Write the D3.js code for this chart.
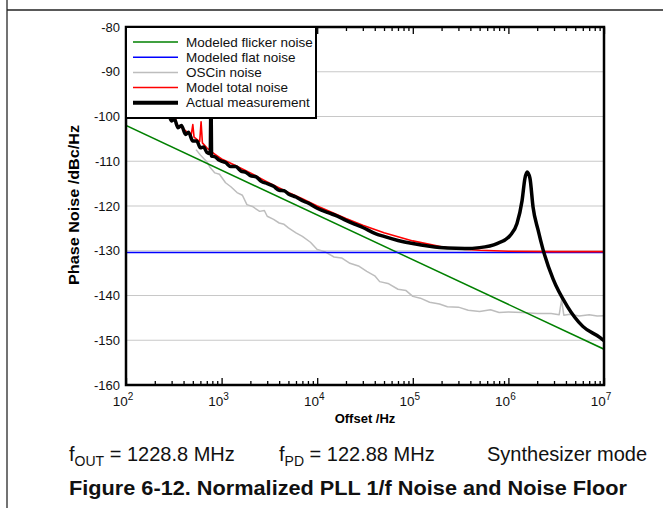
<!DOCTYPE html>
<html lang="en">
<head>
  <meta charset="UTF-8">
  <title>Normalized PLL 1/f Noise and Noise Floor</title>
  <script src="https://d3js.org/d3.v7.min.js"></script>
  <style>
    body { margin: 0; background: #fff; }
    svg { font-family: Arial, "Liberation Sans", sans-serif; }
  </style>
</head>
<body>
  <script>
    // 1. Data (offset Hz, phase noise dBc/Hz)
    const xTicks = [1e2, 1e3, 1e4, 1e5, 1e6, 1e7];
    const yTicks = [-160, -150, -140, -130, -120, -110, -100, -90, -80];

    const flickerF = [1e2, 1e7];
    const flickerDb = [-102, -152];

    const flatF = [1e2, 1e7];
    const flatDb = [-130.4, -130.4];

    const oscinF = [540, 600, 650, 700, 760, 850, 950, 1100, 1250, 1450, 1650, 1840, 2100, 2500, 2800,
      3000, 3500, 4000, 4500, 5000, 6000, 7000, 8500, 1e4, 1.2e4, 1.5e4, 1.8e4, 2.2e4, 2.7e4, 3.3e4,
      4e4, 4.5e4, 5.5e4, 7e4, 8.5e4, 1e5, 1.2e5, 1.5e5, 1.9e5, 2.3e5, 3e5, 3.8e5, 5e5, 6.5e5, 8e5,
      1e6, 1.4e6, 2e6, 2.8e6, 3.4e6, 3.6e6, 3.8e6, 4.4e6, 5.5e6, 7e6, 8.5e6, 1e7];
    const oscinDb = [-107.4, -108.6, -109.4, -110.1, -111.4, -112.6, -112.9, -114.8, -115.7, -117.0, -117.6, -119.7, -120.1, -121.2, -121.0,
      -122.3, -123.0, -123.8, -124.1, -124.9, -126.0, -126.8, -128.1, -129.7, -130.2, -131.4, -131.6, -132.8, -133.4, -134.6,
      -135.6, -136.9, -137.3, -138.6, -138.9, -140.2, -140.6, -141.5, -141.9, -142.5, -142.6, -143.3, -143.6, -143.2, -143.8,
      -143.7, -143.8, -144.0, -144.0, -144.3, -141.0, -144.4, -144.2, -144.6, -144.3, -144.6, -144.5];

    const modelF = [280, 300, 325, 340, 400, 480, 500, 515, 590, 610, 630, 700, 800, 900, 1000, 1200, 1500,
      2000, 3000, 5000, 7000, 1e4, 2e4, 3e4, 5e4, 1e5, 2e5, 3e5, 5e5, 1e6, 3e6, 1e7];
    const modelDb = [-100, -101, -99.8, -101.8, -102.8, -104.2, -101.8, -104.6, -105.6, -101.2, -105.9, -107, -108, -108.8, -109.5, -110.3, -111.3,
      -112.6, -114.6, -117, -118.4, -120, -122.8, -124.3, -126, -127.8, -129.1, -129.6, -129.9, -130.1, -130.2, -130.2];

    const measF = [280, 300, 320, 350, 380, 420, 450, 500, 550, 600, 650, 700, 760, 775, 785, 850, 950,
      1100, 1250, 1400, 1600, 1800, 2000, 2300, 2600, 3000, 3500, 4000, 4500, 5000, 6000, 7000, 8000,
      1e4, 1.3e4, 1.6e4, 2e4, 2.5e4, 3e4, 4e4, 5e4, 7e4, 1e5, 1.5e5, 2.3e5, 3.5e5, 5e5, 7.6e5, 1.04e6,
      1.23e6, 1.39e6, 1.49e6, 1.57e6, 1.68e6, 1.81e6, 2.04e6, 2.3e6, 2.93e6, 4.1e6, 6e6, 9.1e6, 1e7];
    const measDb = [-99.5, -101, -100.5, -102.5, -102, -104, -103.5, -105.5, -105.5, -107, -106.8, -108, -108.3, -95, -108.8, -109, -109.8,
      -110.3, -111.2, -111.2, -112.2, -112.5, -113.2, -113.5, -114.5, -115, -115.6, -116.5, -116.6, -117.3, -118, -118.8, -119.3,
      -120.5, -121.5, -122.2, -123.2, -124.1, -124.8, -126.1, -126.8, -127.7, -128.4, -129, -129.4, -129.5, -129.3, -128.4, -126.6,
      -123.9, -118.8, -113.8, -112.4, -113.8, -120.2, -125.3, -129.7, -136.3, -142.3, -146.9, -149.4, -150.1];

    const legendNames = ["Modeled flicker noise", "Modeled flat noise", "OSCin noise", "Model total noise", "Actual measurement"];
    const legendColors = ["#008000", "#0000ff", "#bdbdbd", "#ff0000", "#000000"];
    const legendWidths = [1.5, 1.5, 1.5, 1.5, 4];

    // 2. SVG canvas
    const width = 663, height = 508;
    const plot = { left: 126, right: 604, top: 27, bottom: 385 };

    const svg = d3.select("body").append("svg")
      .attr("width", width)
      .attr("height", height);

    // page frame lines
    svg.append("line").attr("x1", 7).attr("x2", 7).attr("y1", 0).attr("y2", height)
      .attr("stroke", "#444").attr("stroke-width", 1.5);
    svg.append("line").attr("x1", 7).attr("x2", width).attr("y1", 10).attr("y2", 10)
      .attr("stroke", "#222").attr("stroke-width", 1.5);

    // 3. Scales
    const x = d3.scaleLog().domain([1e2, 1e7]).range([plot.left, plot.right]);
    const y = d3.scaleLinear().domain([-160, -80]).range([plot.bottom, plot.top]);

    // gridlines
    svg.append("g").selectAll("line")
      .data(yTicks.filter(d => d > -160 && d < -80))
      .join("line")
      .attr("x1", plot.left).attr("x2", plot.right)
      .attr("y1", d => y(d)).attr("y2", d => y(d))
      .attr("stroke", "#c8c8c8").attr("stroke-width", 1.2);

    // 4. Curves
    svg.append("clipPath").attr("id", "clip")
      .append("rect").attr("x", plot.left).attr("y", plot.top)
      .attr("width", plot.right - plot.left).attr("height", plot.bottom - plot.top);

    const line = d3.line().x(d => x(d[0])).y(d => y(d[1]));
    const smooth = d3.line().x(d => x(d[0])).y(d => y(d[1])).curve(d3.curveMonotoneX);
    const series = [
      { f: oscinF, db: oscinDb, color: legendColors[2], w: 1.5, gen: line },
      { f: flickerF, db: flickerDb, color: legendColors[0], w: 1.5, gen: line },
      { f: flatF, db: flatDb, color: legendColors[1], w: 1.6, gen: line },
      { f: modelF, db: modelDb, color: legendColors[3], w: 1.6, gen: line },
      { f: measF, db: measDb, color: legendColors[4], w: 3.5, gen: smooth }
    ];
    const curves = svg.append("g").attr("clip-path", "url(#clip)");
    series.forEach(s => {
      curves.append("path")
        .datum(s.f.map((f, i) => [f, s.db[i]]))
        .attr("d", s.gen)
        .attr("fill", "none")
        .attr("stroke", s.color)
        .attr("stroke-width", s.w)
        .attr("stroke-linejoin", "round");
    });

    // 5. Axes (inside ticks on bottom and top)
    const minor = [];
    for (let e = 2; e < 7; e++) for (let k = 2; k <= 9; k++) minor.push(k * Math.pow(10, e));

    const bottomAxis = svg.append("g").attr("transform", `translate(0,${plot.bottom})`)
      .call(d3.axisBottom(x).tickValues(minor).tickSize(-4).tickFormat(""));
    const bottomMajor = svg.append("g").attr("transform", `translate(0,${plot.bottom})`)
      .call(d3.axisBottom(x).tickValues(xTicks).tickSize(-7).tickFormat(""));
    const topAxis = svg.append("g").attr("transform", `translate(0,${plot.top})`)
      .call(d3.axisTop(x).tickValues(minor).tickSize(-4).tickFormat(""));
    const topMajor = svg.append("g").attr("transform", `translate(0,${plot.top})`)
      .call(d3.axisTop(x).tickValues(xTicks).tickSize(-7).tickFormat(""));
    [bottomAxis, bottomMajor, topAxis, topMajor].forEach(g => {
      g.select(".domain").remove();
      g.selectAll(".tick line").attr("stroke", "#000").attr("stroke-width", 1.3);
    });

    // x tick labels 10^n
    const xl = svg.append("g").selectAll("text").data(xTicks).join("text")
      .attr("x", d => x(d) - 3).attr("y", plot.bottom + 21)
      .attr("text-anchor", "middle").attr("font-size", 13.5).attr("fill", "#111");
    xl.append("tspan").text("10");
    xl.append("tspan").attr("dy", -6).attr("font-size", 10).text(d => Math.round(Math.log10(d)));

    // y tick labels
    svg.append("g").selectAll("text").data(yTicks).join("text")
      .attr("x", plot.left - 6).attr("y", d => y(d) + 4.5)
      .attr("text-anchor", "end").attr("font-size", 13).attr("fill", "#111")
      .text(d => d);

    // plot frame
    svg.append("rect").attr("x", plot.left).attr("y", plot.top)
      .attr("width", plot.right - plot.left).attr("height", plot.bottom - plot.top)
      .attr("fill", "none").attr("stroke", "#000").attr("stroke-width", 2.5);

    // axis titles
    svg.append("text").attr("x", 365).attr("y", 423)
      .attr("text-anchor", "middle").attr("font-size", 13).attr("font-weight", "bold")
      .text("Offset /Hz");
    svg.append("text").attr("transform", `translate(79,${(plot.top + plot.bottom) / 2 - 1}) rotate(-90)`)
      .attr("text-anchor", "middle").attr("font-size", 14).attr("font-weight", "bold")
      .attr("textLength", 160).attr("lengthAdjust", "spacingAndGlyphs")
      .text("Phase Noise /dBc/Hz");

    // 6. Legend
    const lg = svg.append("g");
    lg.append("rect").attr("x", plot.left).attr("y", plot.top).attr("width", 190).attr("height", 91)
      .attr("fill", "#fff").attr("stroke", "#000").attr("stroke-width", 2);
    legendNames.forEach((name, i) => {
      const ly = 42 + i * 15.2;
      lg.append("line").attr("x1", 133).attr("x2", 178).attr("y1", ly).attr("y2", ly)
        .attr("stroke", legendColors[i]).attr("stroke-width", legendWidths[i]);
      lg.append("text").attr("x", 186).attr("y", ly + 4.5).attr("font-size", 13.5).attr("fill", "#111")
        .text(name);
    });

    // 7. Caption
    const cap = svg.append("g").attr("font-size", 20).attr("fill", "#111");
    const c1 = cap.append("text").attr("x", 69).attr("y", 461);
    c1.append("tspan").text("f");
    c1.append("tspan").attr("font-size", 14).attr("dy", 5).text("OUT");
    c1.append("tspan").attr("dy", -5).text(" = 1228.8 MHz");
    const c2 = cap.append("text").attr("x", 279).attr("y", 461);
    c2.append("tspan").text("f");
    c2.append("tspan").attr("font-size", 14).attr("dy", 5).text("PD");
    c2.append("tspan").attr("dy", -5).text(" = 122.88 MHz");
    cap.append("text").attr("x", 487).attr("y", 461).text("Synthesizer mode");

    svg.append("text").attr("x", 69).attr("y", 495)
      .attr("font-size", 20).attr("font-weight", "bold").attr("fill", "#111")
      .attr("textLength", 558).attr("lengthAdjust", "spacingAndGlyphs")
      .text("Figure 6-12. Normalized PLL 1/f Noise and Noise Floor");
  </script>
</body>
</html>
